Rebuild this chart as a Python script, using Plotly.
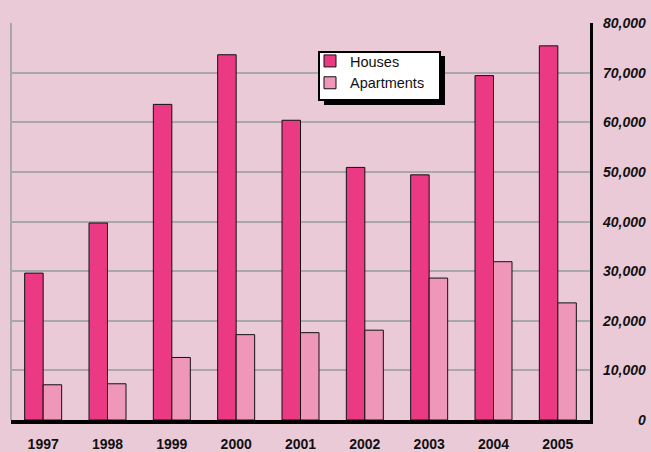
import plotly.graph_objects as go

years = ["1997", "1998", "1999", "2000", "2001", "2002", "2003", "2004", "2005"]
houses = [29600, 39700, 63600, 73600, 60400, 50900, 49400, 69400, 75400]
apartments = [7100, 7300, 12600, 17200, 17600, 18100, 28600, 31900, 23600]
y_ticks = [0, 10000, 20000, 30000, 40000, 50000, 60000, 70000, 80000]
y_tick_labels = ["0", "10,000", "20,000", "30,000", "40,000", "50,000", "60,000", "70,000", "80,000"]

W, H = 651, 452
L, R, T, B = 11, 590, 23, 420  # plot area in pixels
pw, ph = R - L, B - T


def px_x(x):
    return (x - L) / pw


def px_y(y):
    return (B - y) / ph


BG = "#EBCAD8"
FONT = "Liberation Sans, Arial, sans-serif"
fig = go.Figure()
fig.add_trace(go.Bar(x=years, y=houses, name="Houses",
                     marker=dict(color="#EC3984", line=dict(color="#111111", width=1))))
fig.add_trace(go.Bar(x=years, y=apartments, name="Apartments",
                     marker=dict(color="#EF97B8", line=dict(color="#111111", width=1))))

shapes = [
    dict(type="line", xref="paper", yref="paper", x0=0, x1=0, y0=0, y1=1,
         line=dict(color="#A8A8A8", width=2), layer="below"),
    dict(type="rect", xref="paper", yref="paper",
         x0=px_x(324), x1=px_x(445), y0=px_y(105), y1=px_y(56),
         fillcolor="black", line=dict(width=0), layer="above"),
    dict(type="rect", xref="paper", yref="paper",
         x0=px_x(319), x1=px_x(440), y0=px_y(100), y1=px_y(52),
         fillcolor="white", line=dict(color="black", width=2), layer="above"),
]

annotations = [
    dict(x=px_x(648), y=v, xref="paper", yref="y", text="<b><i>" + t + "</i></b>",
         showarrow=False, xanchor="right", yanchor="middle",
         font=dict(family=FONT, size=14, color="#111111"))
    for v, t in zip(y_ticks, y_tick_labels)
]

fig.update_layout(
    width=W, height=H,
    margin=dict(l=L, r=W - R, t=T, b=H - B, autoexpand=False),
    paper_bgcolor=BG, plot_bgcolor=BG,
    barmode="group", bargap=0.425, bargroupgap=0,
    font=dict(family=FONT, color="#111111"),
    showlegend=True,
    legend=dict(x=px_x(310), y=px_y(45), xanchor="left", yanchor="top",
                bgcolor="rgba(0,0,0,0)", borderwidth=0,
                font=dict(size=14.5, color="#111111"), tracegroupgap=0),
    shapes=shapes,
    annotations=annotations,
    xaxis=dict(showgrid=False, showline=True, linecolor="black", linewidth=4,
               ticks="", ticklabelstandoff=8, zeroline=False,
               tickfont=dict(size=14, weight="bold", color="#111111"),
               automargin=False),
    yaxis=dict(range=[0, 80000], tickvals=y_ticks, showticklabels=False,
               side="right", showline=True, linecolor="black", linewidth=3,
               showgrid=True, gridcolor="#A8A8A8", gridwidth=2,
               zeroline=False, ticks="", automargin=False),
)

fig.write_html("out.html")
